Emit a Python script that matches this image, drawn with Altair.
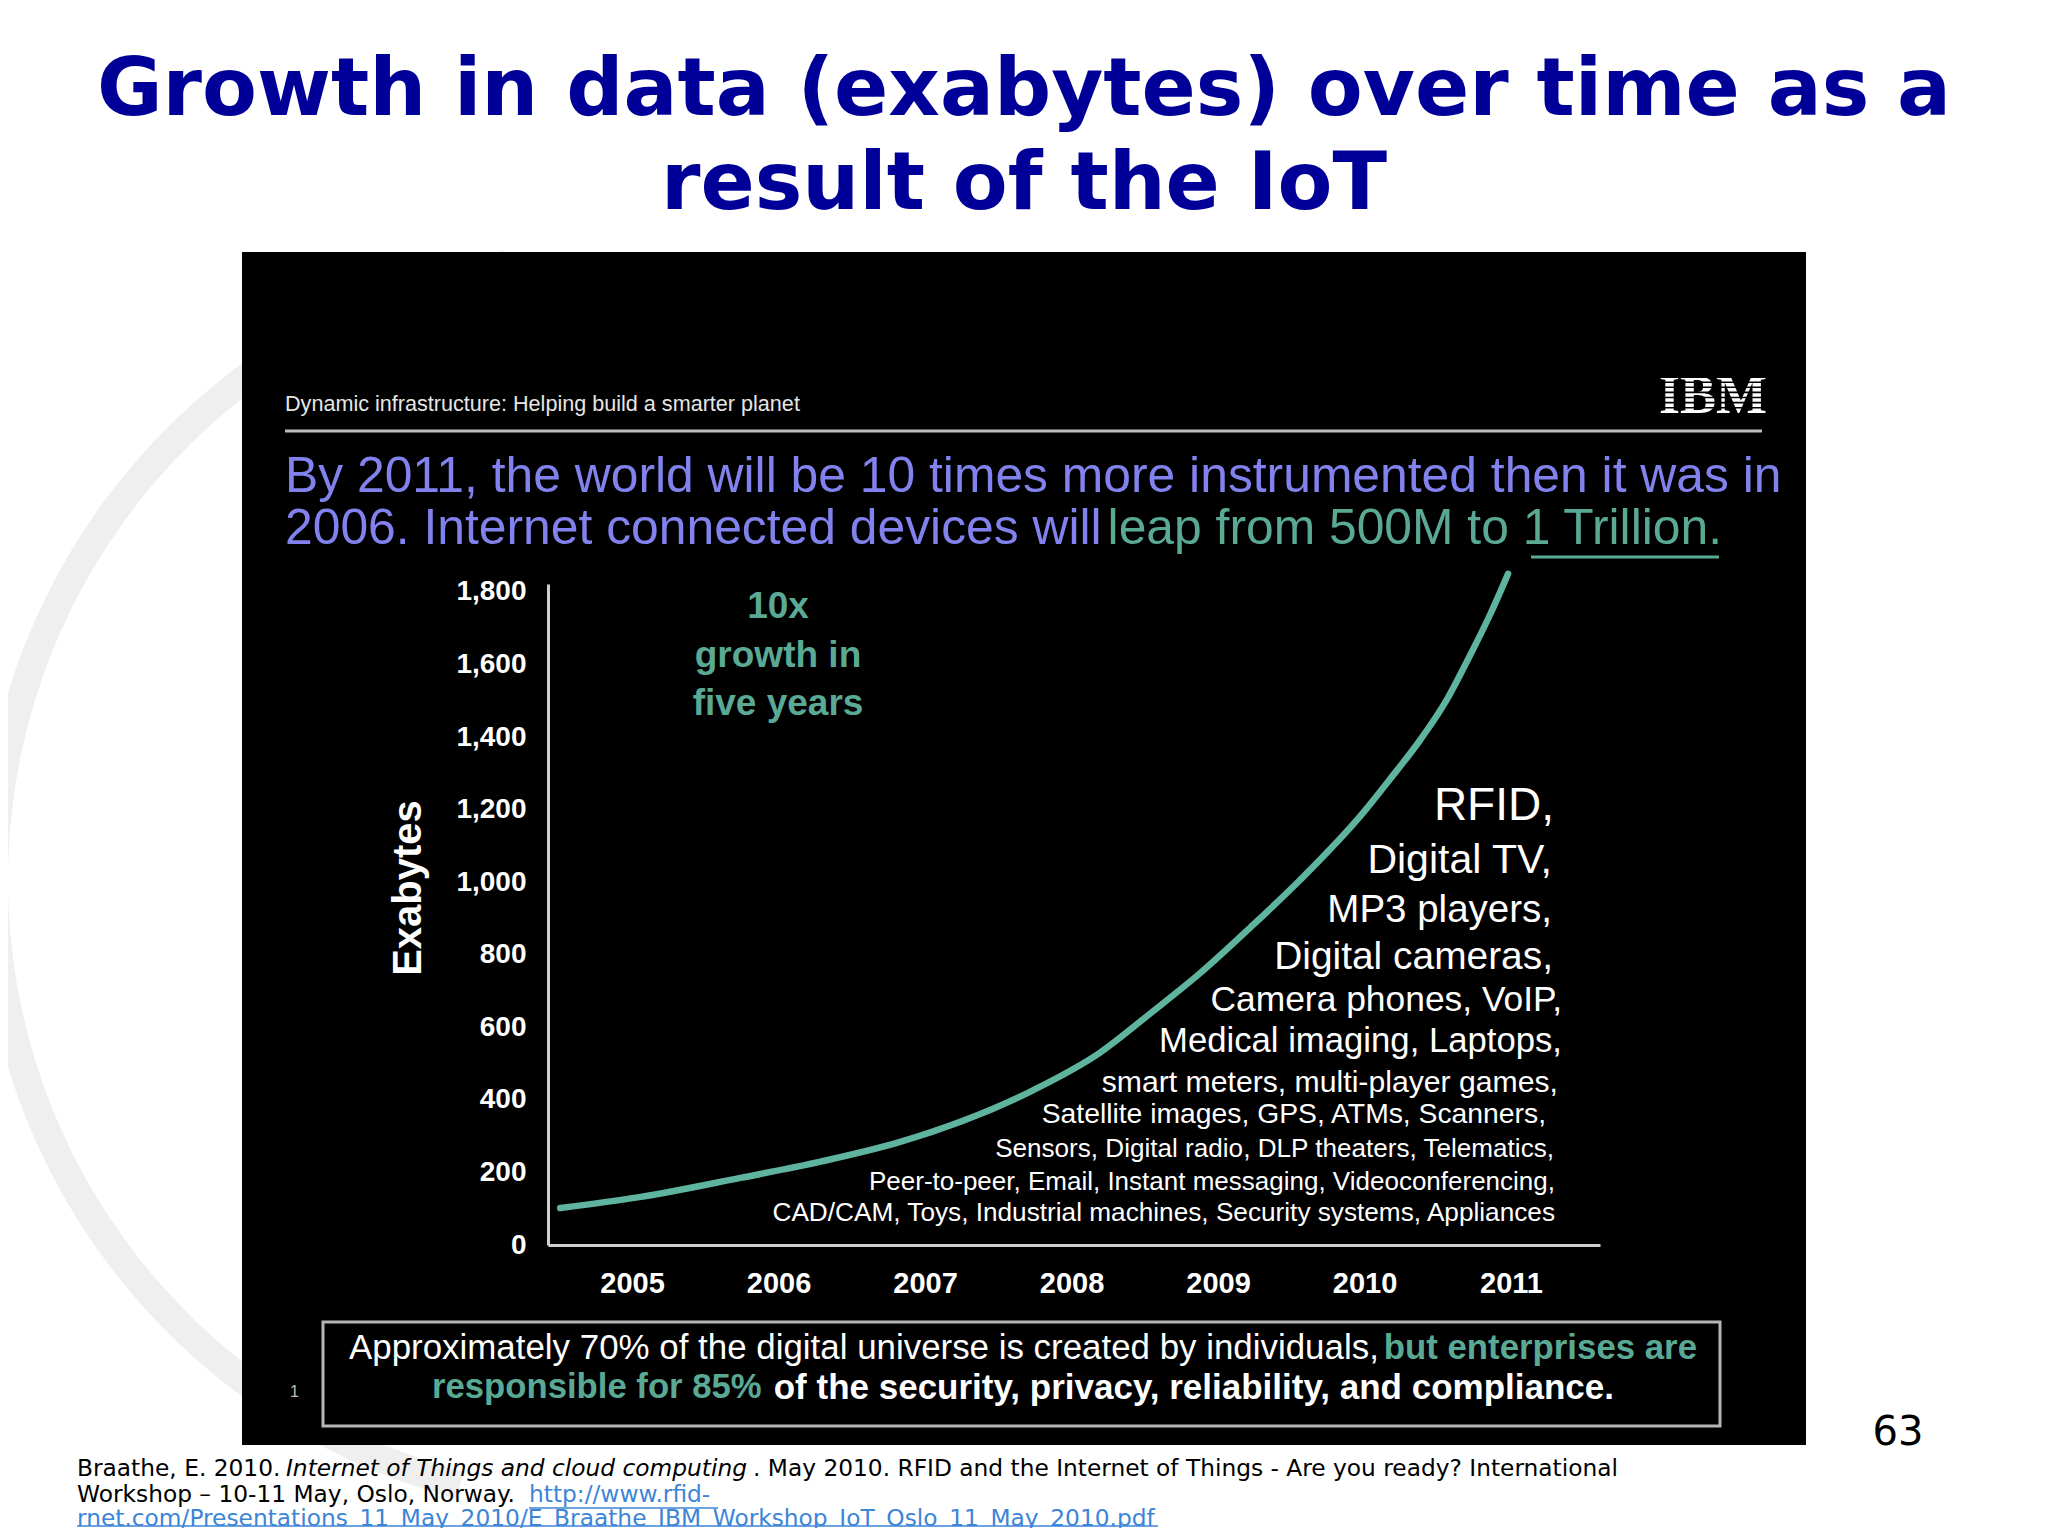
import altair as alt
import pandas as pd

# ---------------- data ----------------
years = [2004.51, 2005.05, 2005.74, 2006.28, 2006.83, 2007.74, 2008.19, 2008.54,
         2008.88, 2009.22, 2009.56, 2009.99, 2010.17, 2010.38, 2010.56,
         2010.72, 2010.86, 2010.98]
exabytes = [102, 132, 185, 229, 284, 427, 529, 639,
            750, 875, 1006, 1191, 1282, 1392, 1502,
            1625, 1740, 1850]
x_ticks = [2005, 2006, 2007, 2008, 2009, 2010, 2011]
y_ticks = [0, 200, 400, 600, 800, 1000, 1200, 1400, 1600, 1800]

title_lines = ["Growth in data (exabytes) over time as a", "result of the IoT"]
header_text = "Dynamic infrastructure: Helping build a smarter planet"
sub_line1 = "By 2011, the world will be 10 times more instrumented then it was in"
sub_line2a = "2006. Internet connected devices will"
sub_line2b = "leap from 500M to 1 Trillion."
growth_lines = ["10x", "growth in", "five years"]
device_lines = [
    "RFID,", "Digital TV,", "MP3 players,", "Digital cameras,",
    "Camera phones, VoIP,", "Medical imaging, Laptops,",
    "smart meters, multi-player games,", "Satellite images, GPS, ATMs, Scanners,",
    "Sensors, Digital radio, DLP theaters, Telematics,",
    "Peer-to-peer, Email, Instant messaging, Videoconferencing,",
    "CAD/CAM, Toys, Industrial machines, Security systems, Appliances",
]
box_l1a = "Approximately 70% of the digital universe is created by individuals,"
box_l1b = "but enterprises are"
box_l2a = "responsible for 85%"
box_l2b = "of the security, privacy, reliability, and compliance."
ref_l1a = "Braathe, E. 2010. "
ref_l1b = "Internet of Things and cloud computing"
ref_l1c = ". May 2010. RFID and the Internet of Things - Are you ready? International"
ref_l2a = "Workshop \u2013 10-11 May, Oslo, Norway. "
ref_l2b = "http://www.rfid-"
ref_l3 = "rnet.com/Presentations_11_May_2010/E_Braathe_IBM_Workshop_IoT_Oslo_11_May_2010.pdf"

# ---------------- styling ----------------
SANS = "Liberation Sans"
VERD = "DejaVu Sans"
TEAL = "#5aa994"
CURVE = "#5fb4a0"
BLUE = "#8282ee"
TITLE = "#000099"
LINK = "#3d85d6"

W, H = 1052, 661
ONE = alt.Data(values=[{"k": 1}])


def T(text, x, y, size, color="white", weight="normal", align="left",
      baseline="middle", font=SANS, style="normal", angle=None):
    kw = dict(text=text, fontSize=size, color=color, fontWeight=weight,
              align=align, baseline=baseline, font=font, fontStyle=style)
    if angle is not None:
        kw["angle"] = angle
    return alt.Chart(ONE).mark_text(**kw).encode(x=alt.value(x), y=alt.value(y))


def R(x, x2, y, y2, color, width):
    return alt.Chart(ONE).mark_rule(color=color, strokeWidth=width).encode(
        x=alt.value(x), x2=alt.value(x2), y=alt.value(y), y2=alt.value(y2))


layers = []

# faint watermark ring on the left
layers.append(alt.Chart(ONE).mark_arc(radius=640, radius2=612, theta=3.4, theta2=6.1,
                                      color="#efefef")
              .encode(x=alt.value(72), y=alt.value(296)))

# black panel
layers.append(alt.Chart(ONE).mark_rect(color="#000000").encode(
    x=alt.value(-306), x2=alt.value(1258), y=alt.value(-332), y2=alt.value(861)))

# slide title
layers.append(T(title_lines[0], 476, -469, 80, TITLE, "bold", "center", "alphabetic", VERD))
layers.append(T(title_lines[1], 476, -375, 80, TITLE, "bold", "center", "alphabetic", VERD))

# header
layers.append(T(header_text, -263, -179, 21.6, "#e6e6e6"))
layers.append(T("IBM", 1165, -171, 54, "white", "bold", "center", "alphabetic", "Liberation Serif"))
for k in range(1, 8):
    yy = -212 + k * 5.1
    layers.append(R(1110, 1220, yy, yy, "#000000", 1.6))
layers.append(R(-263, 1214, -153, -153, "#bdbdbd", 3))

# blue/teal subtitle
layers.append(T(sub_line1, -263, -107, 49.8, BLUE))
layers.append(T(sub_line2a, -263, -55, 49.8, BLUE))
layers.append(T(sub_line2b, 1174, -55, 49.8, TEAL, align="right"))
layers.append(R(983, 1171, -27, -27, TEAL, 3))

# main curve with axes
df = pd.DataFrame({"year": years, "exabytes": exabytes})
line = alt.Chart(df).mark_line(color=CURVE, strokeWidth=6.5, interpolate="monotone",
                               strokeCap="round").encode(
    x=alt.X("year:Q",
            scale=alt.Scale(domain=[2004.4266, 2011.6075], nice=False, zero=False),
            axis=alt.Axis(values=x_ticks, format="d", title=None, grid=False,
                          ticks=False, tickSize=0, labelPadding=24,
                          labelFont=SANS, labelFontSize=29, labelFontWeight="bold",
                          labelColor="white", domainColor="#cfcfcf", domainWidth=3,
                          labelFlush=False, labelOverlap=False, zindex=1)),
    y=alt.Y("exabytes:Q",
            scale=alt.Scale(domain=[0, 1822], nice=False),
            axis=alt.Axis(values=y_ticks, format=",d", title=None, grid=False,
                          ticks=False, tickSize=0, labelPadding=22,
                          labelFont=SANS, labelFontSize=28, labelFontWeight="bold",
                          labelColor="white", domainColor="#cfcfcf", domainWidth=3,
                          labelOverlap=False, zindex=1)),
)
layers.append(line)

# axis title
layers.append(T("Exabytes", -139, 304, 40, "white", "bold", "center", angle=270))

# "10x growth in five years"
for txt, yy in zip(growth_lines, [23, 72, 120]):
    layers.append(T(txt, 230, yy, 37, TEAL, "bold", "center"))

# device list
dev_right = [1006, 1004, 1004, 1005, 1014, 1014, 1010, 998, 1006, 1007, 1007]
dev_y = [222, 277, 326, 373, 416, 458, 499, 531, 565, 598, 629]
dev_size = [46, 41, 38.5, 38.9, 35.4, 34.7, 30.2, 28.3, 26.1, 26.0, 26.2]
for txt, xx, yy, ss in zip(device_lines, dev_right, dev_y, dev_size):
    layers.append(T(txt, xx, yy, ss, "white", align="right"))

# bottom box
layers.append(alt.Chart(ONE).mark_rect(fillOpacity=0, stroke="#b5b5b5", strokeWidth=3).encode(
    x=alt.value(-225), x2=alt.value(1172), y=alt.value(738), y2=alt.value(842)))
layers.append(T(box_l1a, -199, 765, 34.9, "white"))
layers.append(T(box_l1b, 1149, 765, 34.8, TEAL, "bold", "right"))
layers.append(T(box_l2a, -116, 804, 34.7, TEAL, "bold"))
layers.append(T(box_l2b, 1066, 804, 35.0, "white", "bold", "right"))
layers.append(T("1", -258, 808, 16, "#bbbbbb"))

# page number
layers.append(T("63", 1350, 849, 40, "#000000", font=VERD, align="center"))

# reference text
FS = 23.3
layers.append(T(ref_l1a, -471, 885, FS, "#000000", font=VERD))
layers.append(T(ref_l1b, -262, 885, FS, "#000000", font=VERD, style="italic"))
layers.append(T(ref_l1c, 205, 885, FS, "#000000", font=VERD))
layers.append(T(ref_l2a, -471, 911, FS, "#000000", font=VERD))
layers.append(T(ref_l2b, -19, 911, FS, LINK, font=VERD))
layers.append(R(-19, 170, 924, 924, LINK, 1.5))
layers.append(T(ref_l3, -471, 935, FS, LINK, font=VERD))
layers.append(R(-471, 610, 942, 942, LINK, 1.5))

chart = alt.layer(*layers).properties(
    width=W, height=H,
    padding={"left": 540, "top": 576, "right": 440, "bottom": 283},
    autosize=alt.AutoSizeParams(type="none"),
).configure(background="white").configure_view(stroke=None)

chart.save("out.html", embed_options={"renderer": "svg", "actions": False})
